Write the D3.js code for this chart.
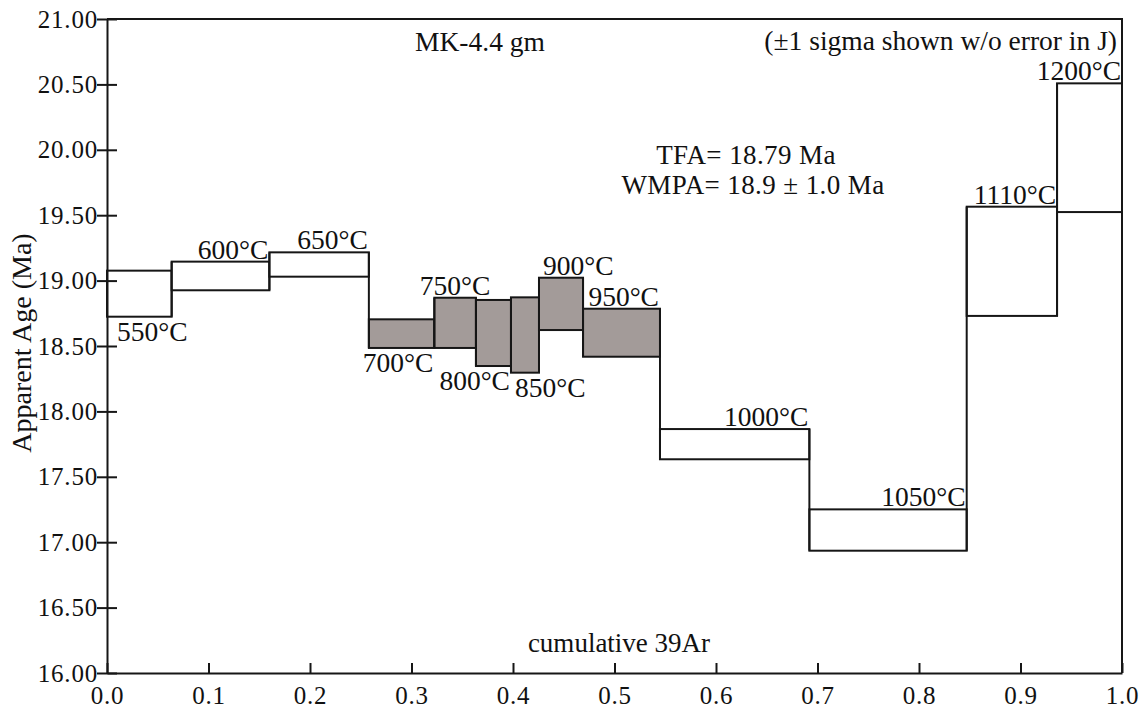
<!DOCTYPE html>
<html>
<head>
<meta charset="utf-8">
<script src="https://cdn.jsdelivr.net/npm/d3@7"></script>
<style>
  html, body { margin: 0; padding: 0; background: #fff; }
  svg { display: block; }
  svg text { font-family: "Liberation Serif", "Times New Roman", serif !important; fill: #111; }
</style>
</head>
<body>
<svg id="chart" width="1143" height="709" font-family="Liberation Serif"></svg>
<script>
// Ar-Ar step-heating age spectrum, sample MK-4.4 gm
const stepTemps   = ["550", "600", "650", "700", "750", "800", "850", "900", "950", "1000", "1050", "1110", "1200"];
const cumArEnd    = [0.0637, 0.160, 0.258, 0.3225, 0.3635, 0.398, 0.4256, 0.469, 0.5448, 0.692, 0.847, 0.936, 1.0];
const ageHigh     = [19.076, 19.145, 19.216, 18.704, 18.869, 18.852, 18.872, 19.022, 18.785, 17.865, 17.251, 19.565, 20.508];
const ageLow      = [18.724, 18.926, 19.030, 18.485, 18.485, 18.347, 18.296, 18.622, 18.418, 17.634, 16.935, 18.730, 19.524];
const inPlateau   = [false, false, false, true, true, true, true, true, true, false, false, false, false];
const labelSide   = ["below", "above", "above", "below", "above", "below", "below", "above", "above", "above", "above", "above", "above"];
const labelAnchor = ["start", "end", "end", "end", "middle", "end", "start", "start", "end", "end", "end", "end", "end"];
const yTickValues = [16, 16.5, 17, 17.5, 18, 18.5, 19, 19.5, 20, 20.5, 21];
const xTickValues = [0, 0.1, 0.2, 0.3, 0.4, 0.5, 0.6, 0.7, 0.8, 0.9, 1.0];

const svg = d3.select("#chart");
const plotL = 107, plotR = 1122, plotT = 19, plotB = 673;

const x = d3.scaleLinear().domain([0, 1]).range([plotL, plotR]);
const y = d3.scaleLinear().domain([16, 21]).range([plotB, plotT]);

const steps = stepTemps.map((t, i) => ({
  temp: t,
  x0: i === 0 ? 0 : cumArEnd[i - 1],
  x1: cumArEnd[i],
  hi: ageHigh[i],
  lo: ageLow[i],
  plateau: inPlateau[i],
  side: labelSide[i],
  anchor: labelAnchor[i]
}));

const ink = "#161616";
const serif = "'Liberation Serif', 'Times New Roman', serif";

// frame: top and right edges
svg.append("path")
  .attr("d", `M${plotL},${plotT}H${plotR}V${plotB}`)
  .attr("fill", "none").attr("stroke", ink).attr("stroke-width", 2);

// step boxes
svg.append("g").selectAll("rect").data(steps).join("rect")
  .attr("x", d => x(d.x0))
  .attr("y", d => y(d.hi))
  .attr("width", d => x(d.x1) - x(d.x0))
  .attr("height", d => y(d.lo) - y(d.hi))
  .attr("fill", d => d.plateau ? "#a39b99" : "#fff")
  .attr("stroke", ink).attr("stroke-width", 2);

// vertical connectors between successive steps
const joins = d3.pairs(steps);
svg.append("g").selectAll("line").data(joins).join("line")
  .attr("x1", ([a]) => x(a.x1)).attr("x2", ([a]) => x(a.x1))
  .attr("y1", ([a, b]) => y(Math.max(a.hi, b.hi)))
  .attr("y2", ([a, b]) => y(Math.min(a.lo, b.lo)))
  .attr("stroke", ink).attr("stroke-width", 2);

// temperature labels
svg.append("g").selectAll("text").data(steps).join("text")
  .attr("x", d => d.anchor === "start" ? x(d.x0) + (d.x0 === 0 ? 10 : 4)
                : d.anchor === "middle" ? (x(d.x0) + x(d.x1)) / 2
                : x(d.x1) - 1)
  .attr("y", d => d.side === "above" ? y(d.hi) - 3 : y(d.lo) + 24)
  .attr("text-anchor", d => d.anchor)
  .style("font-family", serif)
  .style("font-size", "27.5px")
  .text(d => d.temp + "°C");

// y axis
const yAxis = svg.append("g")
  .attr("transform", `translate(${plotL},0)`)
  .call(d3.axisLeft(y).tickValues(yTickValues).tickFormat(d3.format(".2f"))
    .tickSizeInner(10).tickSizeOuter(0).tickPadding(0));
yAxis.attr("font-family", null);
yAxis.select(".domain").attr("stroke", ink).attr("stroke-width", 2);
yAxis.selectAll(".tick line").attr("x1", 10).attr("stroke", ink).attr("stroke-width", 2);
yAxis.selectAll(".tick text")
  .attr("x", -9)
  .style("font-size", "25px").style("font-family", serif)
  .style("letter-spacing", "0.8px").attr("fill", "#111");

// x axis
const xAxis = svg.append("g")
  .attr("transform", `translate(0,${plotB})`)
  .call(d3.axisBottom(x).tickValues(xTickValues).tickFormat(d3.format(".1f"))
    .tickSizeInner(-10).tickSizeOuter(0).tickPadding(13));
xAxis.attr("font-family", null);
xAxis.select(".domain").attr("stroke", ink).attr("stroke-width", 2);
xAxis.selectAll(".tick line").attr("stroke", ink).attr("stroke-width", 2);
xAxis.selectAll(".tick text")
  .style("font-size", "25px").style("font-family", serif)
  .style("letter-spacing", "0.8px").attr("fill", "#111");

// axis titles
svg.append("text")
  .attr("transform", "translate(31,343) rotate(-90)")
  .attr("text-anchor", "middle")
  .style("font-family", serif)
  .style("font-size", "28px")
  .text("Apparent Age (Ma)");

svg.append("text")
  .attr("x", 619).attr("y", 652)
  .attr("text-anchor", "middle")
  .style("font-family", serif)
  .style("font-size", "27px")
  .text("cumulative 39Ar");

// annotations
svg.append("text")
  .attr("x", 480).attr("y", 51)
  .attr("text-anchor", "middle")
  .style("font-family", serif)
  .style("font-size", "27.5px")
  .text("MK-4.4 gm");

svg.append("text")
  .attr("x", 1117).attr("y", 50)
  .attr("text-anchor", "end")
  .style("font-family", serif)
  .style("font-size", "27.5px")
  .text("(±1 sigma shown w/o error in J)");

svg.append("text")
  .attr("x", 746).attr("y", 164)
  .attr("text-anchor", "middle")
  .style("font-family", serif)
  .style("font-size", "27px").style("letter-spacing", "0.4px")
  .text("TFA= 18.79 Ma");

svg.append("text")
  .attr("x", 753).attr("y", 194)
  .attr("text-anchor", "middle")
  .style("font-family", serif)
  .style("font-size", "27px").style("letter-spacing", "0.4px")
  .text("WMPA= 18.9 ± 1.0 Ma");
</script>
</body>
</html>
